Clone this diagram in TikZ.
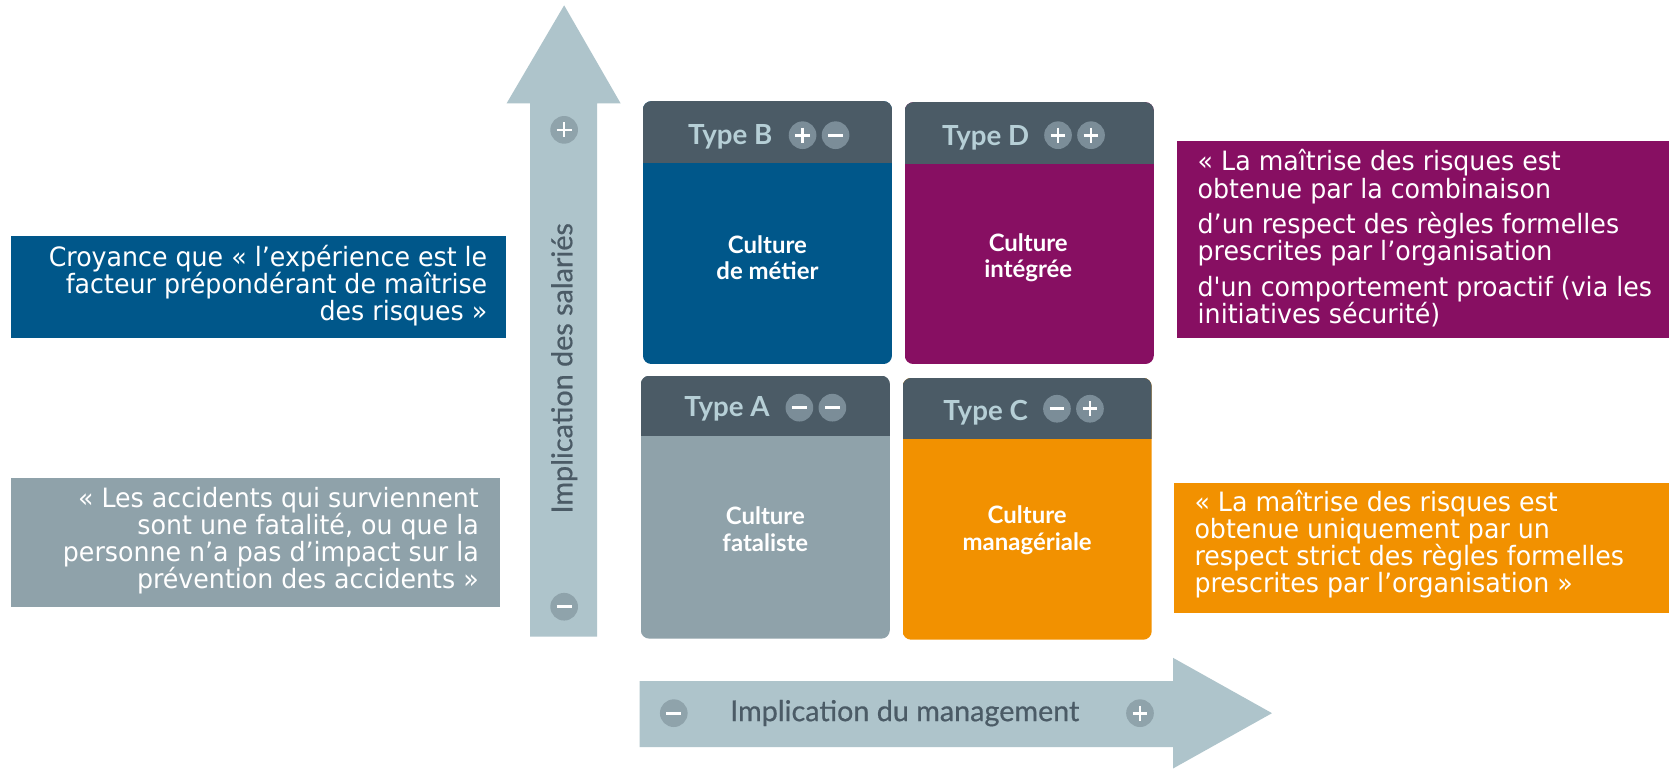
\documentclass[tikz,border=0pt]{standalone}
\usepackage{fontspec}
\newfontfamily\quotefont{DejaVu Sans}[FakeStretch=0.95]
\newfontfamily\latofont{Lato}
\newfontfamily\latomed{Lato}[FakeBold=0.6]
\definecolor{cblue}{HTML}{00578A}
\definecolor{cpurple}{HTML}{870F62}
\definecolor{cgray}{HTML}{8FA2AA}
\definecolor{corange}{HTML}{F29100}
\definecolor{chead}{HTML}{4B5B66}
\definecolor{carrow}{HTML}{AEC4CB}
\definecolor{ccirc}{HTML}{7B8D98}
\definecolor{carrcirc}{HTML}{8FA3AB}
\definecolor{cheadtxt}{HTML}{B6CFD6}
\tikzset{
  quote/.style={inner sep=0pt, text=white, font=\quotefont\fontsize{25}{25.5}\selectfont},
  culture/.style={inner sep=0pt, text=white, align=center, font=\latofont\bfseries\fontsize{22.5}{25}\selectfont},
  typelbl/.style={inner sep=0pt, text=cheadtxt, font=\latofont\bfseries\fontsize{26}{28}\selectfont},
  axislbl/.style={inner sep=0pt, text=chead, font=\latomed\fontsize{27}{30}\selectfont},
  signp/.pic={\fill[#1] (0,0) circle (13pt); \draw[white, line width=2.5pt] (-7,0)--(7,0) (0,-7)--(0,7);},
  signm/.pic={\fill[#1] (0,0) circle (13pt); \draw[white, line width=2.5pt] (-7,0)--(7,0);},
}
\newcommand\cardbox[6]{% x1 y1 x2 y2 yhead color
  \begin{scope}
    \clip[rounded corners=8pt] (#1,#2) rectangle (#3,#4);
    \fill[#6] (#1,#2) rectangle (#3,#4);
    \fill[chead] (#1,#2) rectangle (#3,#5);
  \end{scope}}
\begin{document}
\begin{tikzpicture}[x=1pt,y=-1pt]
\useasboundingbox[fill=white] (0,0) rectangle (1568,723.4);
% left boxes
\fill[cblue] (10,222) rectangle (475,318);
\node[quote, align=right, anchor=east] (q1) at (458,268.5) {Croyance que « l’expérience est le\\facteur prépondérant de maîtrise\\des risques »};
\fill[cgray] (10,449) rectangle (470,570);
\node[quote, align=right, anchor=east] (q2) at (450,508) {« Les accidents qui surviennent\\sont une fatalité, ou que la\\personne n’a pas d’impact sur la\\prévention des accidents »};
% right boxes
\fill[cpurple] (1106,132) rectangle (1568,318);
\node[quote, align=left, anchor=west] (q3) at (1125,224) {« La maîtrise des risques est\\obtenue par la combinaison\\[8pt]d’un respect des règles formelles\\prescrites par l’organisation\\[8pt]d'un comportement proactif (via les\\initiatives sécurité)};
\fill[corange] (1103,454) rectangle (1568,576);
\node[quote, align=left, anchor=west] (q4) at (1122,511) {« La maîtrise des risques est\\obtenue uniquement par un\\respect strict des règles formelles\\prescrites par l’organisation »};
% vertical arrow
\fill[carrow] (498,598) -- (498,97) -- (476,97) -- (530,5) -- (583,97) -- (561,97) -- (561,598) -- cycle;
\pic at (530,122) {signp=carrcirc};
\pic at (530,570) {signm=carrcirc};
\node[axislbl, rotate=90] (ly) at (530,346) {Implication des salariés};
% horizontal arrow
\fill[carrow] (601,640) -- (1102,640) -- (1102,618) -- (1195,670) -- (1102,722) -- (1102,702) -- (601,702) -- cycle;
\pic at (633,670) {signm=carrcirc};
\pic at (1071,670) {signp=carrcirc};
\node[axislbl] (lx) at (850,670) {Implication du management};
% cards
\cardbox{604}{95}{838}{342}{153}{cblue}
\node[typelbl] (tB) at (686,128.5) {Type B};
\pic at (754,127) {signp=ccirc};
\pic at (785,127) {signm=ccirc};
\node[culture] (cB) at (721,242) {Culture\\de métier};
\cardbox{850}{96}{1084}{342}{154}{cpurple}
\node[typelbl] (tD) at (926,129.5) {Type D};
\pic at (994,127) {signp=ccirc};
\pic at (1025,127) {signp=ccirc};
\node[culture] (cD) at (966,242) {Culture\\intégrée};
\cardbox{602}{353}{836}{600}{410}{cgray}
\node[typelbl] (tA) at (683,384.5) {Type A};
\pic at (751,383) {signm=ccirc};
\pic at (782,383) {signm=ccirc};
\node[culture] (cA) at (719,497) {Culture\\fataliste};
\cardbox{848}{355}{1082}{601}{412}{corange}
\node[typelbl] (tC) at (926,387.5) {Type C};
\pic at (993,384) {signm=ccirc};
\pic at (1024,384) {signp=ccirc};
\node[culture] (cC) at (965,498) {Culture\\managériale};
\end{tikzpicture}
\end{document}
